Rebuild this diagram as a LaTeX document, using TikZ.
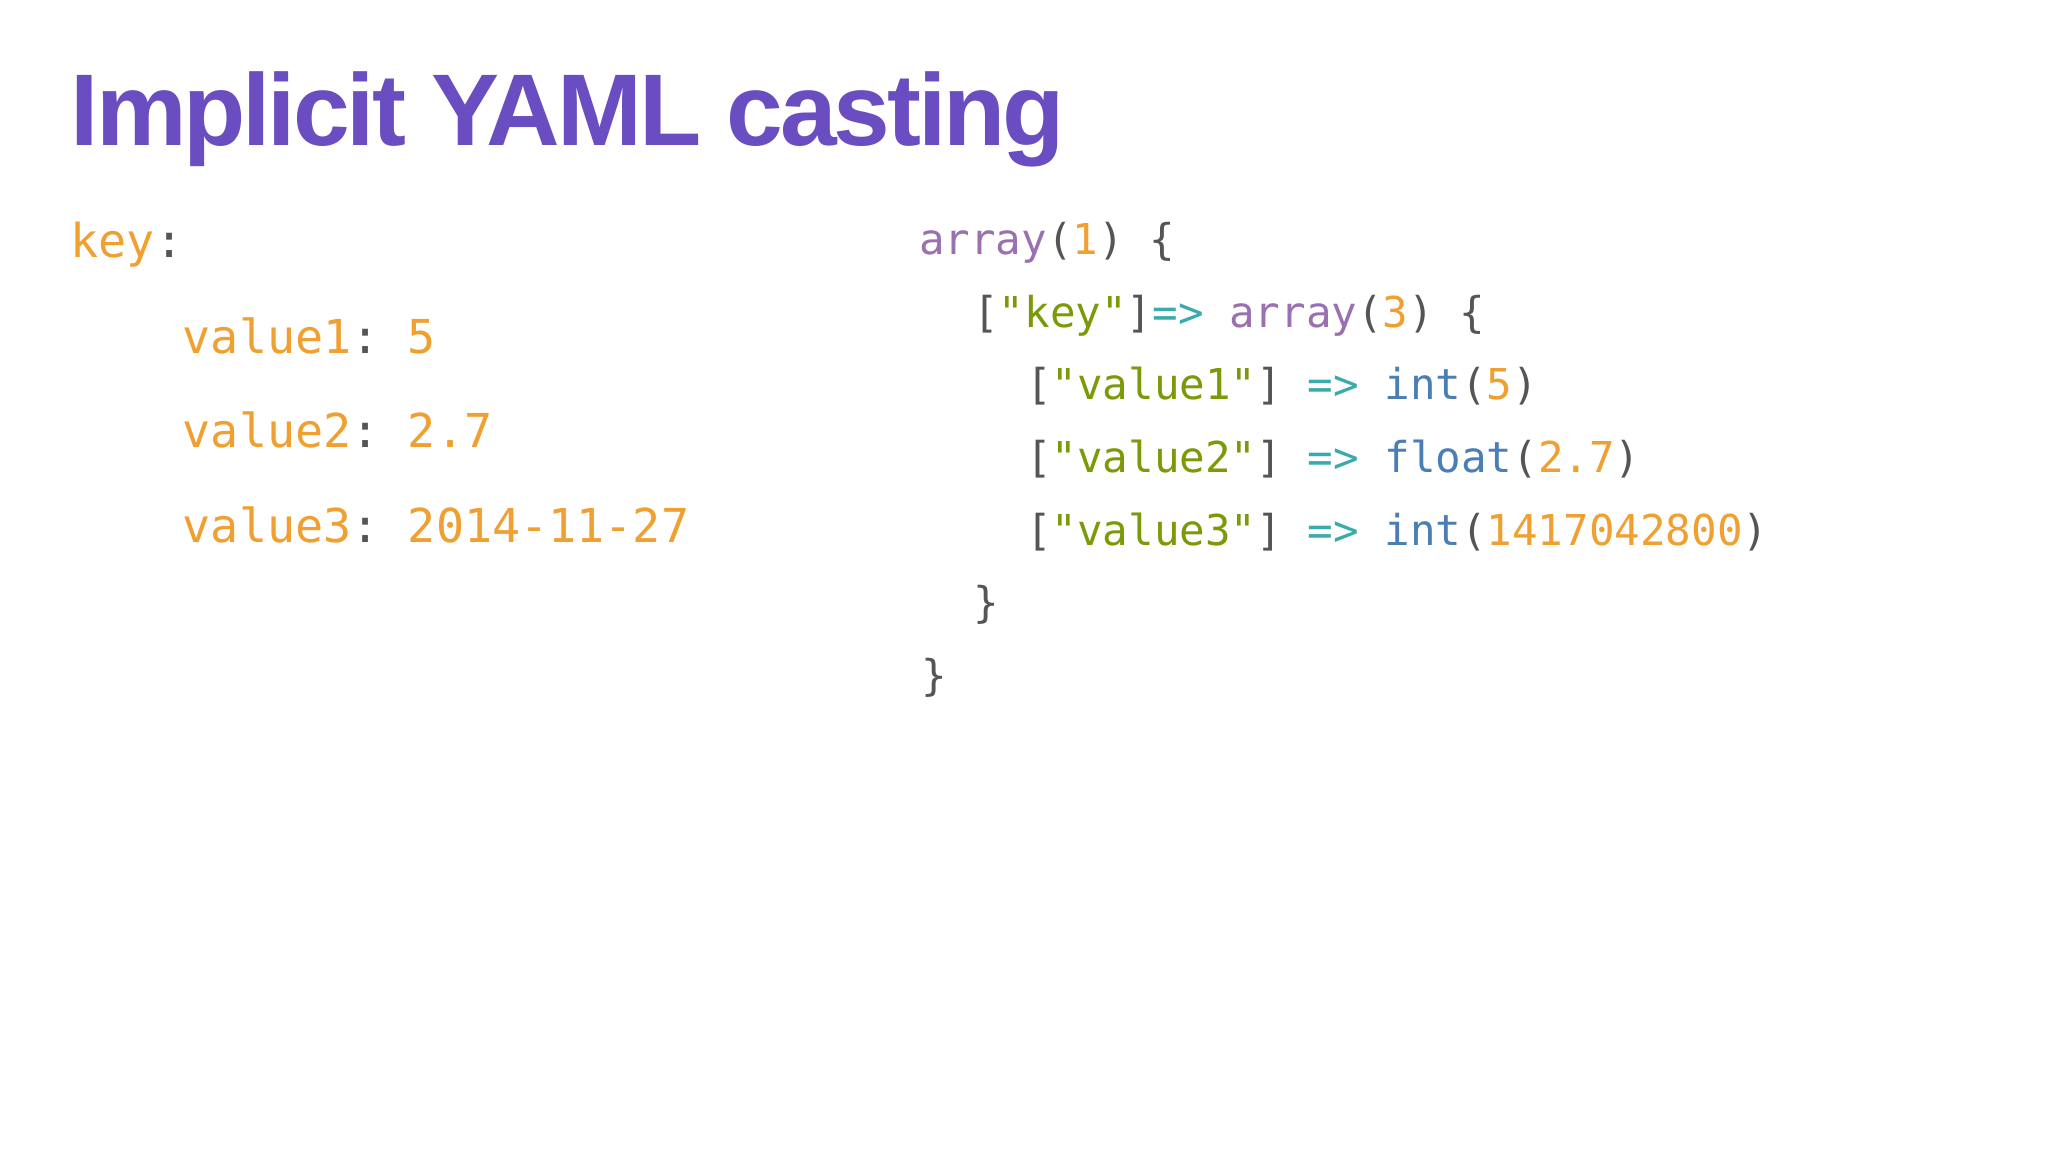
\documentclass[tikz,border=0pt]{standalone}
\usepackage{fontspec}
\setmainfont{Liberation Sans}
\setmonofont{DejaVu Sans Mono}
\definecolor{ttl}{HTML}{6A4DC0}
\definecolor{org}{HTML}{F0A030}
\definecolor{pur}{HTML}{9A70B0}
\definecolor{grn}{HTML}{7A9A08}
\definecolor{tea}{HTML}{3AAAAA}
\definecolor{blu}{HTML}{4A7EB4}
\definecolor{gry}{HTML}{555555}
\newcommand\co[1]{\textcolor{org}{#1}}
\newcommand\cp[1]{\textcolor{pur}{#1}}
\newcommand\cg[1]{\textcolor{grn}{#1}}
\newcommand\ct[1]{\textcolor{tea}{#1}}
\newcommand\cb[1]{\textcolor{blu}{#1}}
\begin{document}
\begin{tikzpicture}[x=0.013196cm,y=-0.013196cm,
  ln/.style={anchor=base west,inner sep=0pt,text=gry,font=\ttfamily\fontsize{12.1}{14}\selectfont},
  lf/.style={anchor=base west,inner sep=0pt,text=gry,font=\ttfamily\fontsize{13.3}{16}\selectfont}]
\useasboundingbox[fill=white] (0,0) rectangle (1552,873);
\node[anchor=base west,inner sep=0pt,text=ttl,font=\bfseries\fontsize{29}{34}\selectfont] (title) at (53,110) {\addfontfeatures{LetterSpace=-3}Implicit YAML casting};
\node[lf] (k) at (53,195) {\co{key}:};
\node[lf] (v1) at (138,268) {\co{value1}: \co{5}};
\node[lf] (v2) at (138,339) {\co{value2}: \co{2.7}};
\node[lf] (v3) at (138,411) {\co{value3}: \co{2014-11-27}};
\node[ln] (r1) at (696,193) {\cp{array}(\co{1}) \{};
\node[ln] (r2) at (737,248) {[\cg{"key"}]\ct{=>} \cp{array}(\co{3}) \{};
\node[ln] (r3) at (777,303) {[\cg{"value1"}] \ct{=>} \cb{int}(\co{5})};
\node[ln] (r4) at (777,358) {[\cg{"value2"}] \ct{=>} \cb{float}(\co{2.7})};
\node[ln] (r5) at (777,413) {[\cg{"value3"}] \ct{=>} \cb{int}(\co{1417042800})};
\node[ln] (r6) at (737,468) {\}};
\node[ln] (r7) at (698,523) {\}};
\end{tikzpicture}
\end{document}
